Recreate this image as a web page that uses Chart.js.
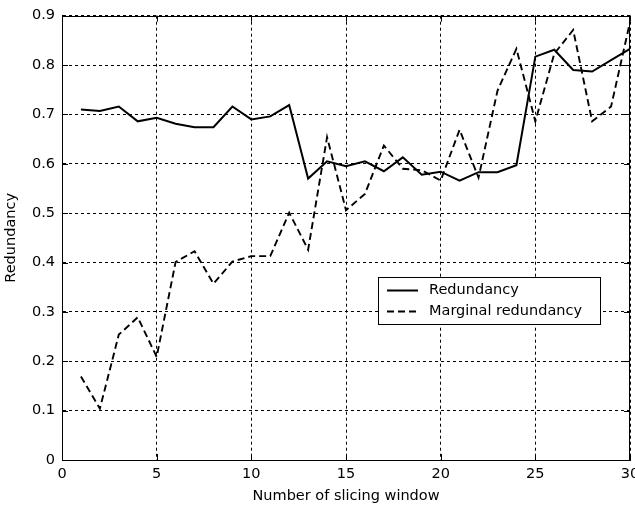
<!DOCTYPE html>
<html>
<head>
<meta charset="utf-8">
<script src="https://cdn.jsdelivr.net/npm/chart.js@4.4.1/dist/chart.umd.min.js"></script>
<style>
  html, body { margin: 0; padding: 0; background: #fff; }
  #wrap { width: 635px; height: 511px; }
</style>
</head>
<body>
<div id="wrap"><canvas id="redChart"></canvas></div>
<script>
// slicing windows 1..30
const windows = [1, 2, 3, 4, 5, 6, 7, 8, 9, 10, 11, 12, 13, 14, 15,
                 16, 17, 18, 19, 20, 21, 22, 23, 24, 25, 26, 27, 28, 29, 30];
const redundancy = [0.710, 0.707, 0.716, 0.686, 0.693, 0.681, 0.674, 0.674, 0.716, 0.690,
                    0.696, 0.719, 0.570, 0.605, 0.595, 0.605, 0.585, 0.613, 0.578, 0.584,
                    0.566, 0.583, 0.583, 0.597, 0.817, 0.831, 0.790, 0.787, 0.810, 0.833];
const marginal = [0.169, 0.104, 0.254, 0.289, 0.209, 0.401, 0.423, 0.357, 0.402, 0.413,
                  0.413, 0.501, 0.426, 0.654, 0.506, 0.539, 0.637, 0.590, 0.587, 0.566,
                  0.669, 0.572, 0.748, 0.833, 0.686, 0.823, 0.871, 0.686, 0.716, 0.887];
const xTicks = [0, 5, 10, 15, 20, 25, 30];
const yTicks = [0, 0.1, 0.2, 0.3, 0.4, 0.5, 0.6, 0.7, 0.8, 0.9];

const FONT = { family: 'DejaVu Sans', size: 14.5 };

const toPoints = vals => windows.map((w, i) => ({ x: w, y: vals[i] }));

// closed box with inward ticks on all four sides
const boxPlugin = {
  id: 'box',
  afterDatasetsDraw(chart) {
    const { ctx, chartArea: a, scales } = chart;
    ctx.save();
    ctx.strokeStyle = '#000';
    ctx.lineWidth = 1;
    ctx.setLineDash([]);
    ctx.beginPath();
    xTicks.forEach(v => {
      const px = Math.round(scales.x.getPixelForValue(v)) + 0.5;
      ctx.moveTo(px, a.bottom); ctx.lineTo(px, a.bottom - 6);
      ctx.moveTo(px, a.top); ctx.lineTo(px, a.top + 6);
    });
    yTicks.forEach(v => {
      const py = Math.round(scales.y.getPixelForValue(v)) + 0.5;
      ctx.moveTo(a.left, py); ctx.lineTo(a.left + 6, py);
      ctx.moveTo(a.right, py); ctx.lineTo(a.right - 6, py);
    });
    ctx.stroke();
    ctx.strokeRect(Math.round(a.left) + 0.5, Math.round(a.top) + 0.5,
                   Math.round(a.right - a.left) - 1, Math.round(a.bottom - a.top));
    ctx.restore();
  }
};

// legend box inside the axes
const legendBox = {
  id: 'legendBox',
  afterDraw(chart) {
    const { ctx, chartArea: a } = chart;
    const left = a.right - 252, top = 277, w = 222, h = 47;
    ctx.save();
    ctx.fillStyle = '#fff';
    ctx.fillRect(left, top, w, h);
    ctx.strokeStyle = '#000';
    ctx.lineWidth = 1;
    ctx.strokeRect(left + 0.5, top + 0.5, w, h);
    ctx.font = FONT.size + 'px ' + FONT.family;
    ctx.textBaseline = 'middle';
    ctx.fillStyle = '#000';
    chart.data.datasets.forEach((ds, i) => {
      const y = top + 13.5 + i * 21;
      ctx.lineWidth = ds.borderWidth;
      ctx.setLineDash(ds.borderDash || []);
      ctx.beginPath();
      ctx.moveTo(left + 9, y);
      ctx.lineTo(left + 40, y);
      ctx.stroke();
      ctx.setLineDash([]);
      ctx.fillText(ds.label, left + 51, y);
    });
    ctx.restore();
  }
};

new Chart(document.getElementById('redChart'), {
  type: 'line',
  data: {
    datasets: [{
      label: 'Redundancy',
      data: toPoints(redundancy),
      borderColor: '#000',
      borderWidth: 2,
      pointRadius: 0,
      tension: 0
    }, {
      label: 'Marginal redundancy',
      data: toPoints(marginal),
      borderColor: '#000',
      borderWidth: 1.9,
      borderDash: [7, 4],
      pointRadius: 0,
      tension: 0
    }]
  },
  options: {
    responsive: true,
    maintainAspectRatio: false,
    animation: false,
    layout: { padding: { top: 15, right: 5, left: 0, bottom: 0 } },
    plugins: {
      legend: { display: false },
      tooltip: { enabled: false }
    },
    scales: {
      x: {
        type: 'linear',
        min: 0,
        max: 30,
        afterBuildTicks: s => { s.ticks = xTicks.map(v => ({ value: v })); },
        afterFit: s => { s.height = 51; s.paddingLeft = 0; s.paddingRight = 0; },
        ticks: { color: '#000', font: FONT, padding: 6, maxRotation: 0 },
        grid: { color: '#000', lineWidth: 1, drawTicks: false },
        border: { color: '#000', dash: [3, 3] },
        title: {
          display: true,
          text: 'Number of slicing window',
          color: '#000',
          font: FONT,
          padding: { top: 0, bottom: 6 }
        }
      },
      y: {
        min: 0,
        max: 0.9,
        afterBuildTicks: s => { s.ticks = yTicks.map(v => ({ value: v })); },
        afterFit: s => { s.width = 62; },
        ticks: { color: '#000', font: FONT, padding: 7,
                 callback: v => (v === 0 ? '0' : v.toFixed(1)) },
        grid: { color: '#000', lineWidth: 1, drawTicks: false },
        border: { color: '#000', dash: [3, 3] },
        title: {
          display: true,
          text: 'Redundancy',
          color: '#000',
          font: FONT,
          padding: { top: 3, bottom: 0 }
        }
      }
    }
  },
  plugins: [boxPlugin, legendBox]
});
</script>
</body>
</html>
